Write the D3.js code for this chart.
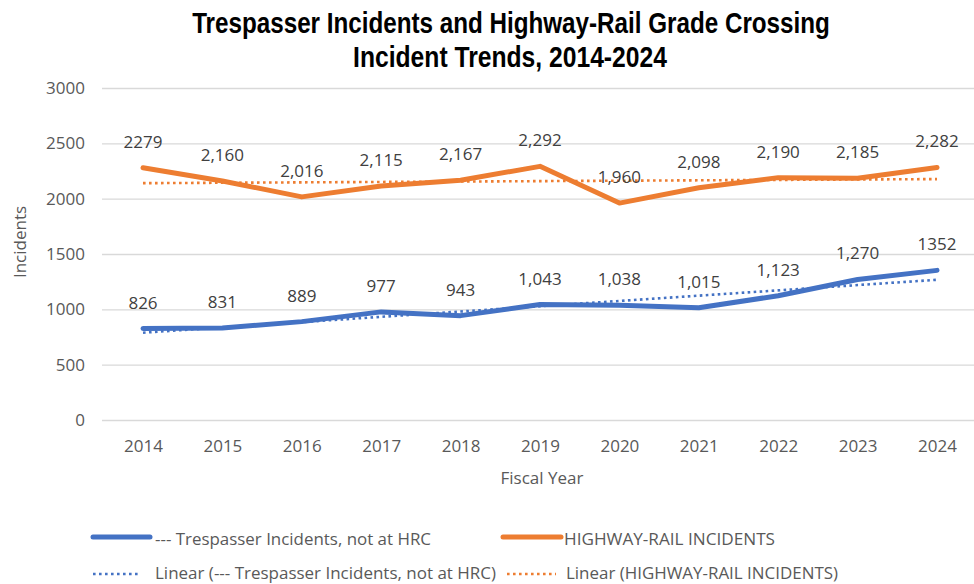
<!DOCTYPE html>
<html>
<head>
<meta charset="utf-8">
<script src="https://cdn.jsdelivr.net/npm/d3@7"></script>
<style>
  html, body { margin: 0; padding: 0; background: #fff; }
  svg text { font-family: 'Open Sans', sans-serif; }
</style>
</head>
<body>
<div id="chart"></div>
<script>
// ── Data ─────────────────────────────────────
const YEARS        = ["2014","2015","2016","2017","2018","2019","2020","2021","2022","2023","2024"];
const TRESPASS     = [826, 831, 889, 977, 943, 1043, 1038, 1015, 1123, 1270, 1352];
const TRESPASS_LBL = ["826","831","889","977","943","1,043","1,038","1,015","1,123","1,270","1352"];
const HRC          = [2279, 2160, 2016, 2115, 2167, 2292, 1960, 2098, 2190, 2185, 2282];
const HRC_LBL      = ["2279","2,160","2,016","2,115","2,167","2,292","1,960","2,098","2,190","2,185","2,282"];
// trendline end values (first year, last year)
const TRESPASS_TREND = [789, 1267];
const HRC_TREND      = [2140, 2177];
const Y_TICKS      = [0, 500, 1000, 1500, 2000, 2500, 3000];

const BLUE = "#4472C4", ORANGE = "#ED7D31", GREY = "#595959";

(function () {
  const W = 974, H = 584;
  const svg = d3.select("#chart").append("svg").attr("width", W).attr("height", H);

  const x = d3.scalePoint().domain(YEARS).range([143, 937]);
  const y = d3.scaleLinear().domain([0, 3000]).range([420, 88]);

  // Title — condensed look by horizontal scaling to the reference width
  [["Trespasser Incidents and Highway-Rail Grade Crossing", 511, 33, 638],
   ["Incident Trends, 2014-2024", 510, 67, 314]].forEach(([txt, cx, cy, w]) => {
    const t = svg.append("text").attr("text-anchor", "middle")
      .attr("font-weight", "bold").attr("fill", "#000")
      .style("font-size", "30px").style("font-family", "'Liberation Sans', Arial, sans-serif")
      .text(txt);
    const sx = w / t.node().getComputedTextLength();
    t.attr("transform", `translate(${cx},${cy}) scale(${sx},1)`);
  });

  // Grid
  svg.append("g").attr("transform", "translate(102,0)")
    .call(d3.axisLeft(y).tickValues(Y_TICKS).tickSize(-872).tickFormat(""))
    .call(g => {
      g.select(".domain").remove();
      g.selectAll(".tick line").attr("stroke", "#D9D9D9").attr("stroke-width", 1.3);
    });

  // Y axis labels
  const yAxis = svg.append("g").attr("transform", "translate(85,0)")
    .call(d3.axisLeft(y).tickValues(Y_TICKS).tickSize(0).tickPadding(0).tickFormat(d3.format("d")));
  yAxis.select(".domain").remove();
  yAxis.selectAll("text").attr("fill", GREY)
    .style("font-size", "17px").style("font-family", "'Open Sans', sans-serif");

  svg.append("text").attr("transform", "translate(26,242) rotate(-90)")
    .attr("text-anchor", "middle").attr("fill", GREY).style("font-size", "17px")
    .text("Incidents");

  // X axis labels
  const xAxis = svg.append("g").attr("transform", "translate(0,420)")
    .call(d3.axisBottom(x).tickSize(0).tickPadding(0));
  xAxis.select(".domain").remove();
  xAxis.selectAll("text").attr("y", 32).attr("dy", 0).attr("fill", GREY)
    .style("font-size", "17px").style("font-family", "'Open Sans', sans-serif");

  svg.append("text").attr("x", 542).attr("y", 484).attr("text-anchor", "middle")
    .attr("fill", GREY).style("font-size", "17px")
    .text("Fiscal Year");

  // Trendlines
  const line = d3.line().x(d => x(d[0])).y(d => y(d[1]));
  const ends = [YEARS[0], YEARS[YEARS.length - 1]];
  [[HRC_TREND, ORANGE], [TRESPASS_TREND, BLUE]].forEach(([t, c]) => {
    svg.append("path").datum(ends.map((yr, i) => [yr, t[i]]))
      .attr("d", line).attr("fill", "none").attr("stroke", c)
      .attr("stroke-width", 2.6).attr("stroke-dasharray", "2.6,3.4");
  });

  // Data lines
  [[HRC, ORANGE], [TRESPASS, BLUE]].forEach(([vals, c]) => {
    svg.append("path").datum(vals.map((v, i) => [YEARS[i], v]))
      .attr("d", line).attr("fill", "none").attr("stroke", c)
      .attr("stroke-width", 5).attr("stroke-linejoin", "round").attr("stroke-linecap", "round");
  });

  // Data labels
  [[HRC, HRC_LBL], [TRESPASS, TRESPASS_LBL]].forEach(([vals, lbls]) => {
    svg.append("g").selectAll("text").data(vals).join("text")
      .attr("x", (d, i) => x(YEARS[i])).attr("y", d => y(d) - 20)
      .attr("text-anchor", "middle").attr("fill", "#404040").style("font-size", "17px")
      .text((d, i) => lbls[i]);
  });

  // Legend
  const leg = svg.append("g");
  const items = [
    { x1: 93,  x2: 150, ly: 537, tx: 155, ty: 545, w: 276, c: BLUE,   dash: null, label: "--- Trespasser Incidents, not at HRC" },
    { x1: 503, x2: 561, ly: 537, tx: 564, ty: 545, w: 211, c: ORANGE, dash: null, label: "HIGHWAY-RAIL INCIDENTS" },
    { x1: 93,  x2: 140, ly: 574, tx: 155, ty: 579, w: 341, c: BLUE,   dash: "2.6,3.4", label: "Linear (--- Trespasser Incidents, not at HRC)" },
    { x1: 507, x2: 556, ly: 574, tx: 566, ty: 579, w: 272, c: ORANGE, dash: "2.6,3.4", label: "Linear (HIGHWAY-RAIL INCIDENTS)" }
  ];
  items.forEach(it => {
    leg.append("line").attr("x1", it.x1).attr("x2", it.x2).attr("y1", it.ly).attr("y2", it.ly)
      .attr("stroke", it.c).attr("stroke-width", it.dash ? 2.6 : 5)
      .attr("stroke-linecap", it.dash ? "butt" : "round")
      .attr("stroke-dasharray", it.dash);
    leg.append("text").attr("x", it.tx).attr("y", it.ty).attr("fill", GREY).style("font-size", "17px")
      .attr("textLength", it.w).attr("lengthAdjust", "spacingAndGlyphs")
      .text(it.label);
  });
})();
</script>
</body>
</html>
